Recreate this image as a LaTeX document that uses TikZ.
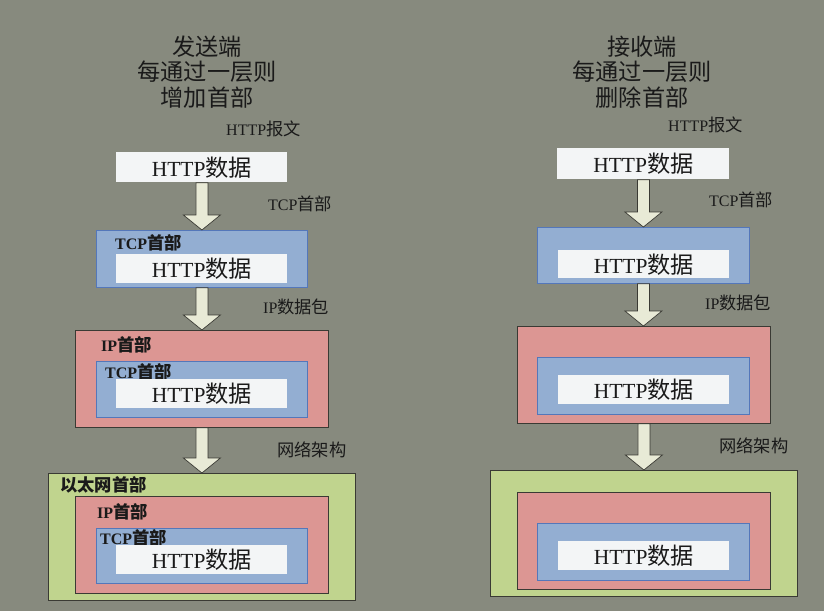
\documentclass[tikz,border=0pt]{standalone}
\usepackage{fontspec}
\setmainfont{Liberation Serif}
\newfontfamily\cjk[Scale=1.08]{Noto Sans CJK SC}
\usetikzlibrary{calc}
\definecolor{bgc}{HTML}{878A7E}
\definecolor{whitebox}{HTML}{F3F5F6}
\definecolor{bluebox}{HTML}{93AED2}
\definecolor{blueline}{HTML}{5477BA}
\definecolor{pinkbox}{HTML}{DC9693}
\definecolor{greenbox}{HTML}{C0D48E}
\definecolor{darkline}{HTML}{3A3A34}
\definecolor{arrowfill}{HTML}{E8EAD6}
\definecolor{txt}{HTML}{1A1A1A}
\newcommand\zh[1]{{\cjk #1}}
\newcommand\barrow[2]{\draw[arrowst] let \p1=(#1.south), \p2=(#2.north) in
  (\x1-6,\y1) -- (\x1-6,\y2+15) -- (\x1-18.5,\y2+15) -- (\x1,\y2) --
  (\x1+18.5,\y2+15) -- (\x1+6,\y2+15) -- (\x1+6,\y1) -- cycle;}
\tikzset{
  box/.style={rectangle, inner sep=0pt, anchor=north west, line width=0.8pt},
  httpbox/.style={box, fill=whitebox, font=\fontsize{21.5}{24}\selectfont, text=txt},
  tcpbox/.style={box, fill=bluebox, draw=blueline},
  ipbox/.style={box, fill=pinkbox, draw=darkline},
  ethbox/.style={box, fill=greenbox, draw=darkline},
  lbl/.style={anchor=west, inner sep=0pt, font=\fontsize{16}{18}\selectfont, text=txt},
  hdr/.style={anchor=west, inner sep=0pt, font=\fontsize{16}{18}\selectfont\bfseries, text=txt},
  ttl/.style={align=center, inner sep=0pt, font=\fontsize{21.5}{25.5}\selectfont, text=txt},
  arrowst/.style={fill=arrowfill, draw=darkline, line width=0.7pt, line join=miter}
}
\begin{document}
\begin{tikzpicture}[x=1pt,y=-1pt]
\fill[bgc] (0,0) rectangle (824,611);
\useasboundingbox (0,0) rectangle (824,611);

% ---------- sender ----------
\node[ttl] (ttlL) at (207,72) {\zh{发送端}\\\zh{每通过一层则}\\\zh{增加首部}};
\node[lbl] (lh1) at (226,129) {HTTP\zh{报文}};
\node[httpbox, minimum width=171pt, minimum height=30pt] (h1) at (116,152) {HTTP\zh{数据}};
\node[lbl] (lt1) at (268,204) {TCP\zh{首部}};
\node[tcpbox, minimum width=211pt, minimum height=57pt] (t1) at (96,230) {};
\node[hdr] (ht1) at (115,243) {TCP\zh{首部}};
\node[httpbox, minimum width=171pt, minimum height=29pt] (h2) at (116,254) {HTTP\zh{数据}};
\node[lbl] (li1) at (263,307) {IP\zh{数据包}};
\node[ipbox, minimum width=253pt, minimum height=97pt] (ip1) at (75,330) {};
\node[hdr] (hi1) at (101,345) {IP\zh{首部}};
\node[tcpbox, minimum width=211pt, minimum height=56pt] (t2) at (96,361) {};
\node[hdr] (ht2) at (105,372) {TCP\zh{首部}};
\node[httpbox, minimum width=171pt, minimum height=29pt] (h3) at (116,379) {HTTP\zh{数据}};
\node[lbl] (le1) at (277,450) {\zh{网络架构}};
\node[ethbox, minimum width=307pt, minimum height=127pt] (e1) at (48,473) {};
\node[hdr] (he1) at (60,485) {\zh{以太网首部}};
\node[ipbox, minimum width=253pt, minimum height=97pt] (ip2) at (75,496) {};
\node[hdr] (hi2) at (97,512) {IP\zh{首部}};
\node[tcpbox, minimum width=211pt, minimum height=55pt] (t3) at (96,528) {};
\node[hdr] (ht3) at (100,538) {TCP\zh{首部}};
\node[httpbox, minimum width=171pt, minimum height=29pt] (h4) at (116,545) {HTTP\zh{数据}};
\barrow{h1}{t1}
\barrow{t1}{ip1}
\barrow{ip1}{e1}

% ---------- receiver ----------
\node[ttl] (ttlR) at (642,72) {\zh{接收端}\\\zh{每通过一层则}\\\zh{删除首部}};
\node[lbl] (rlh1) at (668,125) {HTTP\zh{报文}};
\node[httpbox, minimum width=172pt, minimum height=31pt] (rh1) at (557,148) {HTTP\zh{数据}};
\node[lbl] (rlt1) at (709,200) {TCP\zh{首部}};
\node[tcpbox, minimum width=212pt, minimum height=56pt] (rt1) at (537,227) {};
\node[httpbox, minimum width=171pt, minimum height=28pt] (rh2) at (558,250) {HTTP\zh{数据}};
\node[lbl] (rli1) at (705,303) {IP\zh{数据包}};
\node[ipbox, minimum width=253pt, minimum height=97pt] (rip1) at (517,326) {};
\node[tcpbox, minimum width=212pt, minimum height=57pt] (rt2) at (537,357) {};
\node[httpbox, minimum width=171pt, minimum height=29pt] (rh3) at (558,375) {HTTP\zh{数据}};
\node[lbl] (rle1) at (719,446) {\zh{网络架构}};
\node[ethbox, minimum width=307pt, minimum height=126pt] (re1) at (490,470) {};
\node[ipbox, minimum width=253pt, minimum height=97pt] (rip2) at (517,492) {};
\node[tcpbox, minimum width=212pt, minimum height=57pt] (rt3) at (537,523) {};
\node[httpbox, minimum width=171pt, minimum height=29pt] (rh4) at (558,541) {HTTP\zh{数据}};
\barrow{rh1}{rt1}
\barrow{rt1}{rip1}
\barrow{rip1}{re1}
\end{tikzpicture}
\end{document}
